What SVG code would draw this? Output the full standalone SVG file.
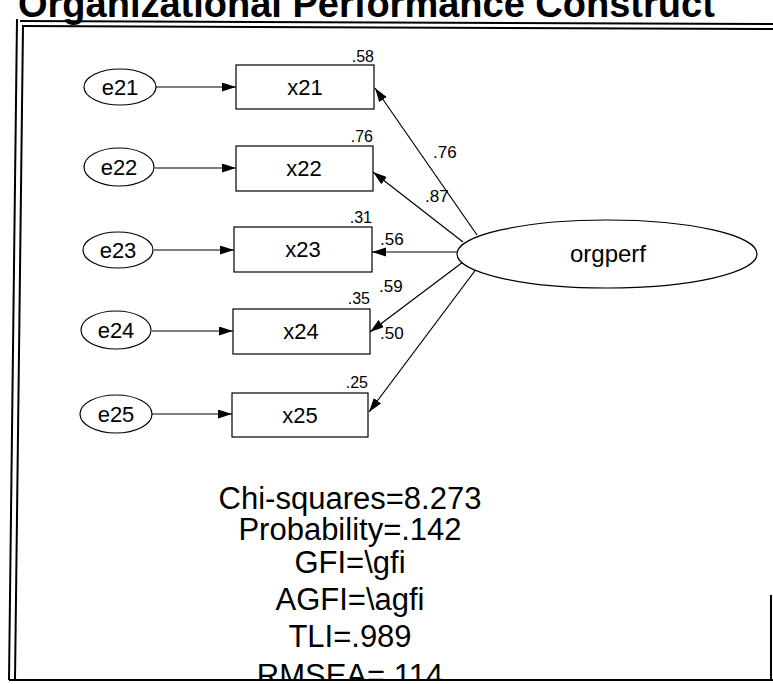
<svg xmlns="http://www.w3.org/2000/svg" width="773" height="684" viewBox="0 0 773 684">
<style>
text{font-family:"Liberation Sans",Arial,sans-serif;fill:#000}
.node{fill:#fff;stroke:#000;stroke-width:1.2}
.lbl{font-size:22px;text-anchor:middle}
.var{font-size:16px;text-anchor:end}
.ld{font-size:17px}
.fit{font-size:31px;text-anchor:middle}
.con line{stroke:#000;stroke-width:1.2}
.frame{stroke:#000;stroke-width:2;fill:none}
</style>
<defs>
<marker id="ah" markerWidth="15" markerHeight="10" refX="14" refY="4.5" orient="auto" markerUnits="userSpaceOnUse">
<path d="M0,0 L14,4.5 L0,9 z" fill="#000"/>
</marker>
<clipPath id="clipBottom"><rect x="0" y="0" width="773" height="679"/></clipPath>
</defs>
<rect width="773" height="684" fill="#fff"/>
<text x="18" y="17" font-size="38" font-weight="bold">Organizational Performance Construct</text>
<g id="frame">
<line class="frame" x1="20" y1="21" x2="773" y2="24"/>
<line class="frame" x1="22" y1="26" x2="773" y2="29"/>
<line class="frame" x1="17" y1="19" x2="9" y2="680"/>
<line class="frame" x1="23" y1="26" x2="15" y2="680"/>
<line class="frame" x1="9" y1="680" x2="773" y2="680"/>
<line class="frame" x1="771" y1="595" x2="771" y2="680"/>
</g>
<g id="connectors" class="con">
<line x1="156" y1="87" x2="236" y2="87" marker-end="url(#ah)"/>
<line x1="155" y1="168" x2="236" y2="168" marker-end="url(#ah)"/>
<line x1="154" y1="250" x2="234" y2="250" marker-end="url(#ah)"/>
<line x1="152" y1="331" x2="233" y2="331" marker-end="url(#ah)"/>
<line x1="152" y1="414" x2="232" y2="414" marker-end="url(#ah)"/>
<line x1="477" y1="235" x2="375" y2="88" marker-end="url(#ah)"/>
<line x1="463" y1="242" x2="373" y2="172" marker-end="url(#ah)"/>
<line x1="458" y1="252" x2="372" y2="252" marker-end="url(#ah)"/>
<line x1="463" y1="262" x2="370" y2="332" marker-end="url(#ah)"/>
<line x1="477" y1="268" x2="369" y2="412" marker-end="url(#ah)"/>
</g>
<g id="e21"><ellipse class="node" cx="120" cy="87" rx="36" ry="18"/><text class="lbl" x="120" y="95">e21</text></g>
<g id="e22"><ellipse class="node" cx="119" cy="167" rx="35" ry="19"/><text class="lbl" x="119" y="175">e22</text></g>
<g id="e23"><ellipse class="node" cx="118" cy="250" rx="35" ry="18"/><text class="lbl" x="118" y="258">e23</text></g>
<g id="e24"><ellipse class="node" cx="116" cy="330" rx="35" ry="19"/><text class="lbl" x="116" y="338">e24</text></g>
<g id="e25"><ellipse class="node" cx="116" cy="414" rx="36" ry="19"/><text class="lbl" x="116" y="422">e25</text></g>
<g id="x21"><rect class="node" x="236" y="65" width="138" height="44"/><text class="lbl" x="305" y="95">x21</text><text class="var" x="374" y="62">.58</text></g>
<g id="x22"><rect class="node" x="236" y="146" width="137" height="45"/><text class="lbl" x="304" y="176">x22</text><text class="var" x="373" y="142">.76</text></g>
<g id="x23"><rect class="node" x="234" y="227" width="138" height="45"/><text class="lbl" x="303" y="257">x23</text><text class="var" x="372" y="223">.31</text></g>
<g id="x24"><rect class="node" x="233" y="309" width="137" height="45"/><text class="lbl" x="301" y="339">x24</text><text class="var" x="370" y="304">.35</text></g>
<g id="x25"><rect class="node" x="232" y="393" width="136" height="44"/><text class="lbl" x="300" y="423">x25</text><text class="var" x="368" y="388">.25</text></g>
<g id="orgperf"><ellipse class="node" cx="607" cy="254" rx="150" ry="34"/><text x="608" y="262" font-size="24" text-anchor="middle">orgperf</text></g>
<g id="loadings">
<text class="ld" x="433" y="158">.76</text>
<text class="ld" x="425" y="202">.87</text>
<text class="ld" x="380" y="245">.56</text>
<text class="ld" x="379" y="292">.59</text>
<text class="ld" x="380" y="339">.50</text>
</g>
<g id="fit" clip-path="url(#clipBottom)">
<text class="fit" x="350" y="509">Chi-squares=8.273</text>
<text class="fit" x="350" y="540">Probability=.142</text>
<text class="fit" x="350" y="573">GFI=\gfi</text>
<text class="fit" x="350" y="610">AGFI=\agfi</text>
<text class="fit" x="350" y="647">TLI=.989</text>
<text class="fit" x="350" y="686">RMSEA=.114</text>
</g>
</svg>
